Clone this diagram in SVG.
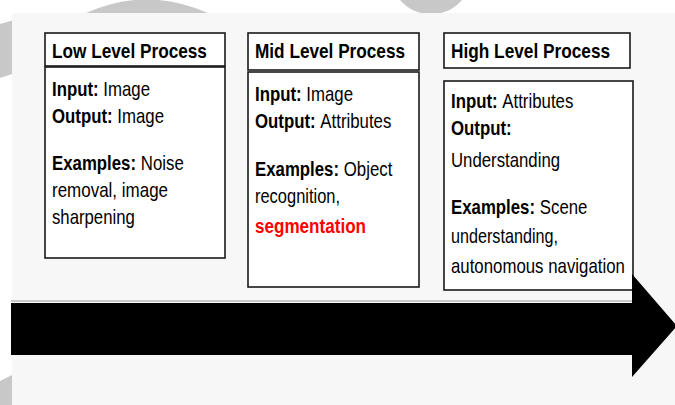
<svg xmlns="http://www.w3.org/2000/svg" width="675" height="405" viewBox="0 0 675 405">
  <style>
    .box { fill: #ffffff; stroke: #1a1a1a; stroke-width: 1.6; }
    .t { font-family: "Liberation Sans", Arial, sans-serif; font-size: 20.5px; fill: #000; }
    .h { font-family: "Liberation Sans", Arial, sans-serif; font-size: 21px; font-weight: bold; fill: #000; }
    .b { font-weight: bold; }
    .red { fill: #ff0000; font-weight: bold; }
    .deco { fill: #c8c8c8; }
  </style>

  <!-- backdrop -->
  <rect x="0" y="0" width="675" height="405" fill="#ffffff"/>
  <path class="deco" d="M86 13 Q146 -14 208 13 Z"/>
  <path class="deco" d="M400 0 L462 0 Q450 14 431 14 Q412 14 400 0 Z"/>
  <path class="deco" d="M0 24 L21 18 L18 72 L0 78 Z"/>
  <path class="deco" d="M0 381 L12 375 L12 405 L0 405 Z"/>
  <rect x="12" y="13" width="663" height="392" fill="#f7f7f7"/>

  <!-- low level -->
  <g id="low">
    <rect class="box" x="45" y="33" width="180" height="33"/>
    <rect class="box" x="45" y="67" width="180" height="191"/>
    <g transform="translate(52 0) scale(0.82 1)">
      <text class="h" x="0" y="58">Low Level Process</text>
      <text class="t b" x="0" y="96">Input:</text>
      <text class="t" x="62.6" y="96">Image</text>
      <text class="t b" x="0" y="123">Output:</text>
      <text class="t" x="79.7" y="123">Image</text>
      <text class="t b" x="0" y="170">Examples:</text>
      <text class="t" x="108.3" y="170">Noise</text>
      <text class="t" x="0" y="197" textLength="141.5" lengthAdjust="spacingAndGlyphs">removal, image</text>
      <text class="t" x="0" y="224" textLength="101" lengthAdjust="spacingAndGlyphs">sharpening</text>
    </g>
  </g>

  <!-- mid level -->
  <g id="mid">
    <rect class="box" x="248" y="33" width="171" height="37"/>
    <rect class="box" x="248" y="72" width="171" height="215"/>
    <g transform="translate(255 0) scale(0.82 1)">
      <text class="h" x="0" y="58" textLength="183" lengthAdjust="spacingAndGlyphs">Mid Level Process</text>
      <text class="t b" x="0" y="101">Input:</text>
      <text class="t" x="62.6" y="101">Image</text>
      <text class="t b" x="0" y="128">Output:</text>
      <text class="t" x="79.7" y="128">Attributes</text>
      <text class="t b" x="0" y="176">Examples:</text>
      <text class="t" x="108.3" y="176">Object</text>
      <text class="t" x="0" y="203" textLength="103.7" lengthAdjust="spacingAndGlyphs">recognition,</text>
      <text class="t red" x="0" y="233" textLength="135.4" lengthAdjust="spacingAndGlyphs">segmentation</text>
    </g>
  </g>

  <!-- high level -->
  <g id="high">
    <rect class="box" x="444" y="33" width="186" height="35"/>
    <rect class="box" x="444" y="81" width="189" height="209"/>
    <g transform="translate(451 0) scale(0.82 1)">
      <text class="h" x="0" y="58" textLength="194" lengthAdjust="spacingAndGlyphs">High Level Process</text>
      <text class="t b" x="0" y="108">Input:</text>
      <text class="t" x="62.6" y="108">Attributes</text>
      <text class="t b" x="0" y="135">Output:</text>
      <text class="t" x="0" y="167" textLength="133" lengthAdjust="spacingAndGlyphs">Understanding</text>
      <text class="t b" x="0" y="214">Examples:</text>
      <text class="t" x="108.3" y="214">Scene</text>
      <text class="t" x="0" y="243" textLength="130.5" lengthAdjust="spacingAndGlyphs">understanding,</text>
      <text class="t" x="0" y="273" textLength="212" lengthAdjust="spacingAndGlyphs">autonomous navigation</text>
    </g>
  </g>

  <!-- timeline arrow -->
  <g id="connectors">
    <line x1="11" y1="301" x2="632" y2="301" stroke="#9a9a9a" stroke-width="1"/>
    <path d="M11 303 L632 303 L632 274 L677 326 L632 377 L632 355 L11 355 Z" fill="#000000"/>
  </g>
</svg>
